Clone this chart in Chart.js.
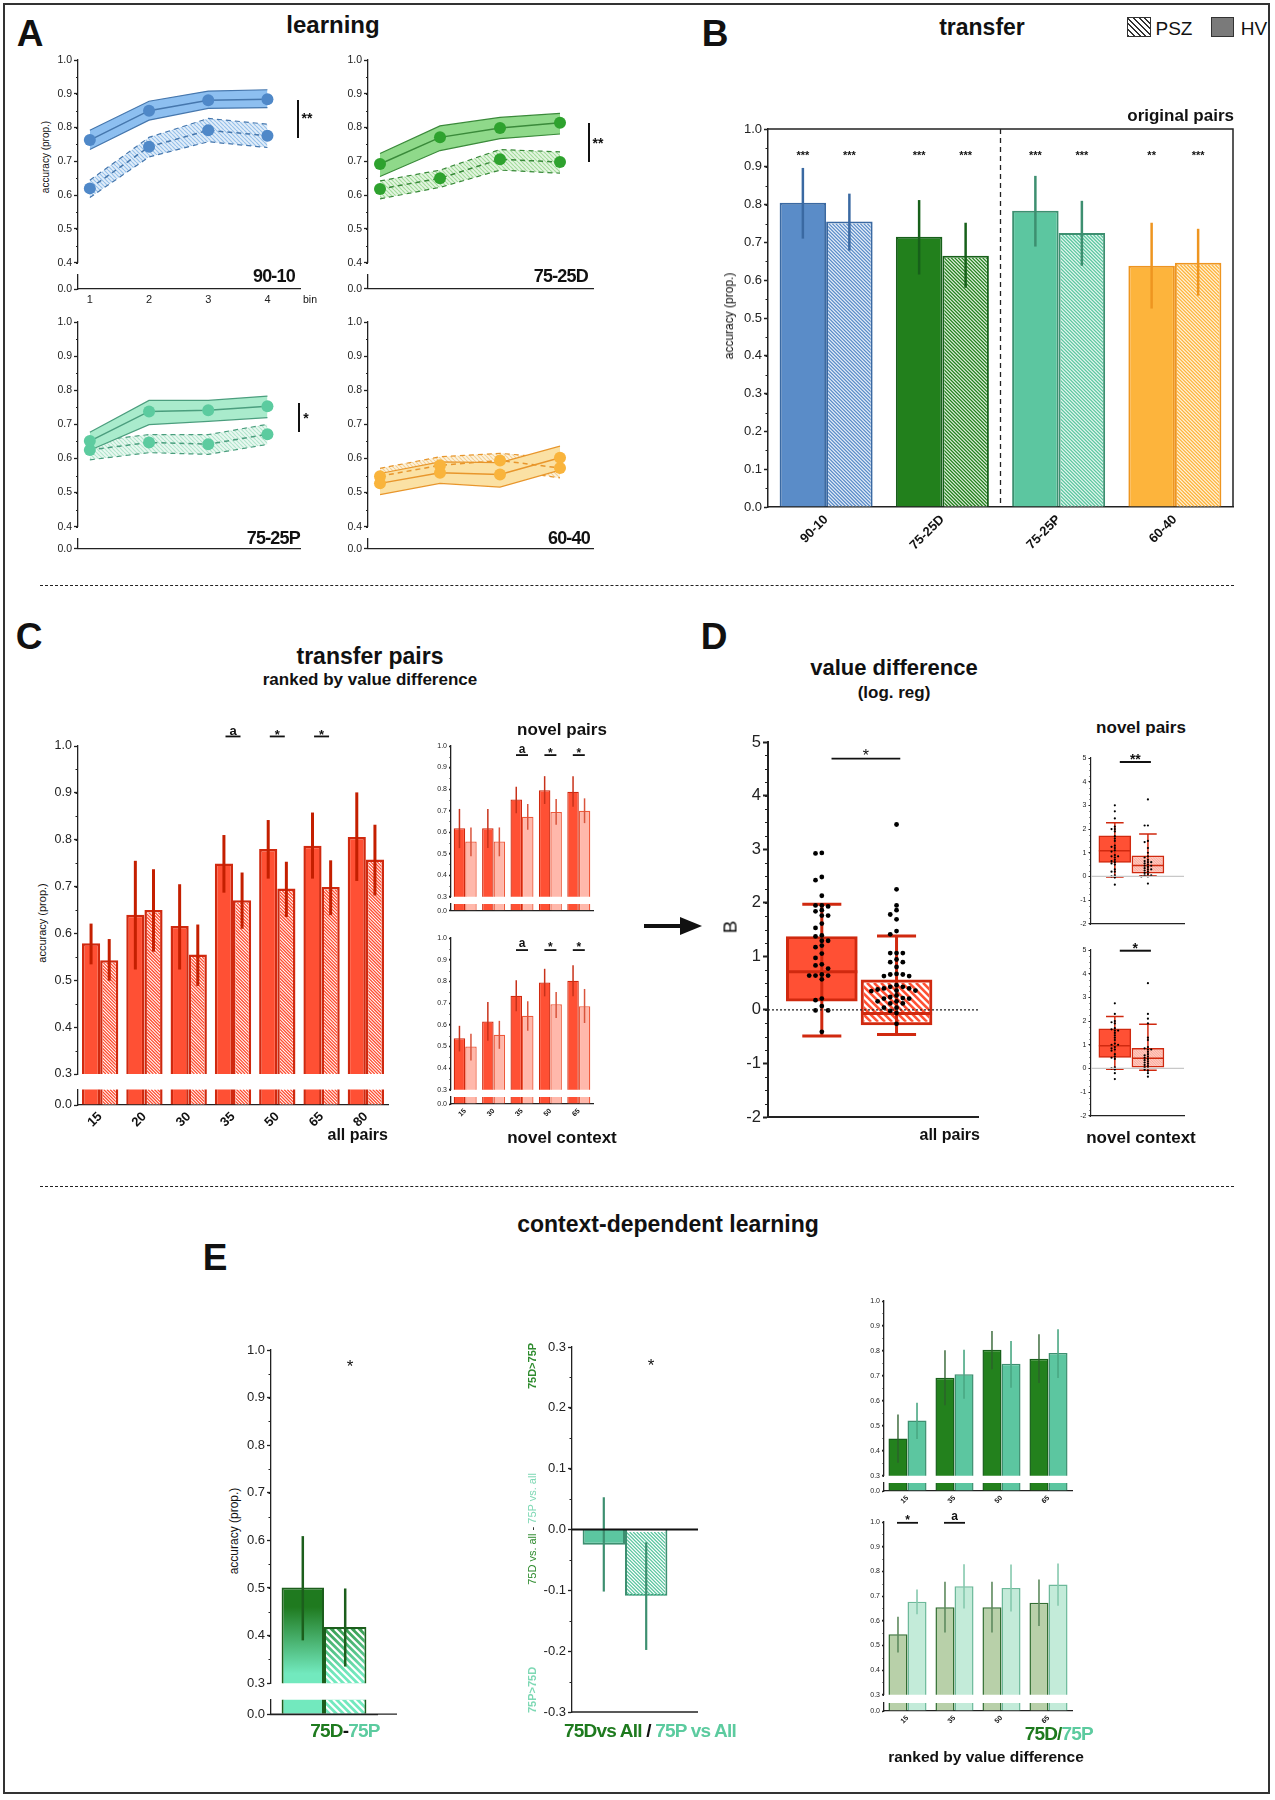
<!DOCTYPE html>
<html>
<head>
<meta charset="utf-8">
<title>learning and transfer</title>
<script src="https://cdn.jsdelivr.net/npm/chart.js@4.4.1/dist/chart.umd.min.js"></script>
<style>
  html, body { margin: 0; padding: 0; background: #fff; }
  body { position: relative; width: 1275px; height: 1800px; overflow: hidden;
         font-family: 'Liberation Sans', Arial, Helvetica, sans-serif; color: #111; }
  .t { position: absolute; white-space: nowrap; line-height: 1; }
  .frame { position: absolute; left: 3px; top: 3px; width: 1267px; height: 1791px; border: 2px solid #333; box-sizing: border-box; }
  .sep { position: absolute; left: 40px; width: 1194px; height: 0; border-top: 1.5px dashed #222; }
  .vb { position: absolute; width: 2px; background: #111; }
</style>
</head>
<body>
<div class="frame"></div>
<div class="sep" style="top:585px"></div>
<div class="sep" style="top:1186px"></div>
<svg style="position:absolute;left:640px;top:913px" width="64" height="26">
  <line x1="4" y1="13" x2="44" y2="13" stroke="#111" stroke-width="4"/>
  <polygon points="40,4 62,13 40,22" fill="#111"/>
</svg>
<div style="position:absolute;left:1127px;top:17px;width:24px;height:20px;border:1.5px solid #333;box-sizing:border-box;background:repeating-linear-gradient(45deg,#333 0 1.3px,#fff 1.3px 4px)"></div>
<div style="position:absolute;left:1211px;top:17px;width:23px;height:20px;border:1.5px solid #333;box-sizing:border-box;background:#7a7a7a"></div>
<script>
// ---------- A: learning curves (mean and band edges per bin) ----------
const bins = [1, 2, 3, 4];

const hv9010 = [0.763, 0.850, 0.881, 0.884];
const hv9010Hi = [0.792, 0.878, 0.908, 0.912];
const hv9010Lo = [0.735, 0.822, 0.857, 0.859];
const psz9010 = [0.620, 0.743, 0.792, 0.776];
const psz9010Hi = [0.644, 0.771, 0.827, 0.810];
const psz9010Lo = [0.593, 0.713, 0.758, 0.741];

const hv7525D = [0.692, 0.771, 0.799, 0.814];
const hv7525DHi = [0.723, 0.805, 0.830, 0.842];
const hv7525DLo = [0.655, 0.732, 0.767, 0.781];
const psz7525D = [0.618, 0.650, 0.706, 0.698];
const psz7525DHi = [0.642, 0.674, 0.735, 0.728];
const psz7525DLo = [0.589, 0.623, 0.674, 0.665];

const hv7525P = [0.651, 0.738, 0.741, 0.753];
const hv7525PHi = [0.677, 0.770, 0.770, 0.783];
const hv7525PLo = [0.624, 0.699, 0.709, 0.720];
const psz7525P = [0.625, 0.647, 0.642, 0.671];
const psz7525PHi = [0.650, 0.670, 0.670, 0.700];
const psz7525PLo = [0.596, 0.617, 0.612, 0.641];

const hv6040 = [0.527, 0.558, 0.553, 0.602];
const hv6040Hi = [0.556, 0.590, 0.588, 0.636];
const hv6040Lo = [0.494, 0.527, 0.516, 0.566];
const psz6040 = [0.548, 0.580, 0.594, 0.572];
const psz6040Hi = [0.571, 0.605, 0.615, 0.600];
const psz6040Lo = [0.524, 0.555, 0.568, 0.543];

// ---------- B: transfer, original pairs ----------
const pairTypes = ['90-10', '75-25D', '75-25P', '60-40'];
const transferHV = [0.805, 0.715, 0.784, 0.638];
const transferHVHi = [0.897, 0.812, 0.876, 0.752];
const transferHVLo = [0.710, 0.615, 0.689, 0.525];
const transferPSZ = [0.755, 0.665, 0.725, 0.646];
const transferPSZHi = [0.829, 0.752, 0.810, 0.736];
const transferPSZLo = [0.678, 0.580, 0.638, 0.559];
const transferSigHV = ['***', '***', '***', '**'];
const transferSigPSZ = ['***', '***', '***', '***'];

// ---------- C: transfer pairs ranked by value difference ----------
const valueDiffs = ['15', '20', '30', '35', '50', '65', '80'];
const allHV = [0.579, 0.640, 0.616, 0.749, 0.780, 0.787, 0.806];
const allHVHi = [0.621, 0.755, 0.705, 0.810, 0.842, 0.858, 0.901];
const allHVLo = [0.534, 0.523, 0.523, 0.687, 0.717, 0.717, 0.712];
const allPSZ = [0.543, 0.650, 0.555, 0.671, 0.696, 0.699, 0.758];
const allPSZHi = [0.588, 0.737, 0.619, 0.730, 0.753, 0.756, 0.832];
const allPSZLo = [0.499, 0.561, 0.488, 0.610, 0.635, 0.639, 0.681];
const allSig = ['', '', '', 'a', '*', '*', ''];

const novelDiffs = ['15', '30', '35', '50', '65'];
const novelPairsHV = [0.618, 0.618, 0.752, 0.795, 0.788];
const novelPairsHVHi = [0.708, 0.708, 0.811, 0.860, 0.860];
const novelPairsHVLo = [0.526, 0.526, 0.688, 0.731, 0.718];
const novelPairsPSZ = [0.557, 0.557, 0.672, 0.694, 0.700];
const novelPairsPSZHi = [0.622, 0.622, 0.731, 0.754, 0.757];
const novelPairsPSZLo = [0.488, 0.488, 0.611, 0.634, 0.642];
const novelCtxHV = [0.538, 0.615, 0.734, 0.795, 0.803];
const novelCtxHVHi = [0.595, 0.705, 0.805, 0.858, 0.874];
const novelCtxHVLo = [0.477, 0.526, 0.662, 0.731, 0.731];
const novelCtxPSZ = [0.500, 0.554, 0.642, 0.695, 0.685];
const novelCtxPSZHi = [0.558, 0.618, 0.708, 0.751, 0.765];
const novelCtxPSZLo = [0.435, 0.489, 0.572, 0.631, 0.608];
const novelSig = ['', '', 'a', '*', '*'];

// ---------- D: value difference (log. reg), B per subject ----------
const boxX = [1, 2]; // HV, PSZ
const bAllHV = [2.92, 2.93, 2.48, 2.42, 2.13, 1.95, 1.93, 1.95, 1.84, 1.76, 1.76, 1.86, 1.61, 1.53, 1.37, 1.39,
  1.29, 1.29, 1.20, 1.17, 1.05, 0.97, 0.83, 0.85, 0.77, 0.66, 0.64, 0.57, 0.64, 0.64, 0.21, 0.18, -0.01, 0.07, -0.01, -0.41];
const bAllPSZ = [3.46, 2.25, 1.95, 1.86, 1.78, 1.69, 1.47, 1.41, 1.06, 1.06, 1.06, 0.94, 0.89, 0.89, 0.80, 0.66,
  0.66, 0.63, 0.63, 0.67, 0.46, 0.43, 0.43, 0.38, 0.36, 0.36, 0.40, 0.40, 0.27, 0.35, 0.21, 0.24, 0.21, 0.22,
  0.16, 0.16, 0.04, -0.02, 0.12, 0.12, 0.04, -0.06, -0.26];
const bAllQ1 = [0.16, -0.28];
const bAllQ3 = [1.37, 0.56];
const bAllMed = [0.71, -0.07];
const bAllLo = [-0.49, -0.46];
const bAllHi = [1.97, 1.38];

const bNpHV = [3.0, 2.75, 2.45, 2.1, 2.0, 2.0, 1.9, 1.7, 1.6, 1.5, 1.3, 1.25, 1.2, 1.1, 1.05, 0.9, 0.85, 0.85,
  0.8, 0.7, 0.65, 0.6, 0.55, 0.5, 0.3, 0.2, 0.2, 0.05, 0.0, -0.05, -0.35];
const bNpPSZ = [3.25, 2.15, 2.15, 1.5, 1.45, 1.2, 1.0, 0.85, 0.8, 0.7, 0.65, 0.6, 0.6, 0.55, 0.5, 0.45, 0.45,
  0.4, 0.35, 0.3, 0.3, 0.25, 0.2, 0.15, 0.1, 0.05, 0.05, 0.0, 0.0, -0.3];
const bNpQ1 = [0.59, 0.14];
const bNpQ3 = [1.71, 0.87];
const bNpMed = [1.08, 0.46];
const bNpLo = [-0.02, 0.03];
const bNpHi = [2.27, 1.79];

const bNcHV = [2.75, 2.3, 2.0, 1.95, 1.9, 1.7, 1.65, 1.6, 1.6, 1.5, 1.4, 1.3, 1.2, 1.05, 1.0, 1.0, 0.9, 0.85,
  0.8, 0.75, 0.6, 0.5, 0.45, 0.4, 0.05, 0.0, -0.05, -0.2, -0.45];
const bNcPSZ = [3.6, 2.3, 2.1, 1.9, 1.3, 1.2, 0.9, 0.85, 0.8, 0.8, 0.7, 0.6, 0.55, 0.5, 0.45, 0.4, 0.35, 0.3,
  0.25, 0.2, 0.15, 0.1, 0.05, 0.0, -0.05, -0.1, -0.2, -0.35];
const bNcQ1 = [0.47, 0.05];
const bNcQ3 = [1.67, 0.85];
const bNcMed = [0.96, 0.43];
const bNcLo = [-0.03, -0.08];
const bNcHi = [2.19, 1.87];

// ---------- E: context-dependent learning ----------
const e1Labels = ['75D-75P'];
const e1HV = [0.501], e1HVHi = [0.609], e1HVLo = [0.390];
const e1PSZ = [0.418], e1PSZHi = [0.499], e1PSZLo = [0.335];
const e2HV = [-0.025], e2HVHi = [0.053], e2HVLo = [-0.102];
const e2PSZ = [-0.109], e2PSZHi = [-0.021], e2PSZLo = [-0.198];

const e3Diffs = ['15', '35', '50', '65'];
const hv75D = [0.449, 0.693, 0.805, 0.769];
const hv75DHi = [0.545, 0.803, 0.880, 0.867];
const hv75DLo = [0.352, 0.583, 0.727, 0.672];
const hv75P = [0.521, 0.707, 0.749, 0.792];
const hv75PHi = [0.593, 0.805, 0.840, 0.887];
const hv75PLo = [0.447, 0.609, 0.653, 0.692];
const psz75D = [0.545, 0.655, 0.655, 0.673];
const psz75DHi = [0.616, 0.758, 0.758, 0.767];
const psz75DLo = [0.471, 0.552, 0.552, 0.579];
const psz75P = [0.677, 0.740, 0.733, 0.747];
const psz75PHi = [0.727, 0.829, 0.828, 0.832];
const psz75PLo = [0.626, 0.650, 0.637, 0.661];
const psz75Sig = ['*', 'a', '', ''];

// ---------- setup ----------
const FONT = "'Liberation Sans', Arial, Helvetica, sans-serif";
Chart.defaults.font.family = FONT;
Chart.defaults.color = '#222';
Chart.defaults.animation = false;
Chart.defaults.responsive = true;
Chart.defaults.maintainAspectRatio = false;
Chart.defaults.events = [];
Chart.defaults.plugins.legend.display = false;
Chart.defaults.plugins.tooltip.enabled = false;

// error bars drawn from errHi / errLo on a dataset
const errorBars = {
  id: 'errorBars',
  afterDatasetsDraw(chart) {
    const ctx = chart.ctx;
    chart.data.datasets.forEach((ds, i) => {
      if (!ds.errHi) return;
      const meta = chart.getDatasetMeta(i);
      const ys = chart.scales[meta.yAxisID];
      meta.data.forEach((bar, j) => {
        ctx.save();
        ctx.strokeStyle = Array.isArray(ds.errColor) ? ds.errColor[j] : ds.errColor;
        ctx.lineWidth = ds.errWidth;
        ctx.beginPath();
        ctx.moveTo(bar.x, ys.getPixelForValue(ds.errHi[j]));
        ctx.lineTo(bar.x, ys.getPixelForValue(ds.errLo[j]));
        ctx.stroke();
        ctx.restore();
      });
    });
  }
};

// diagonal hatching over bars
const stripes = {
  id: 'stripes',
  afterDatasetDraw(chart, args) {
    const ds = chart.data.datasets[args.index];
    if (!ds.stripe) return;
    const s = ds.stripe, ctx = chart.ctx, a = chart.chartArea;
    const bw = ds.borderWidth || 0;
    args.meta.data.forEach((bar, j) => {
      const col = Array.isArray(s.color) ? s.color[j] : s.color;
      if (!col) return;
      const l = bar.x - bar.width / 2 + bw, r = bar.x + bar.width / 2 - bw;
      const t = Math.max(Math.min(bar.y, bar.base) + bw, a.top);
      const b = Math.min(Math.max(bar.y, bar.base) - (ds.borderSkipped === false ? bw : 0), a.bottom);
      if (b <= t) return;
      ctx.save();
      ctx.beginPath();
      ctx.rect(l, t, r - l, b - t);
      ctx.clip();
      ctx.strokeStyle = col;
      ctx.lineWidth = s.lw;
      ctx.beginPath();
      const h = b - t;
      for (let k = l - h - s.gap; k < r + s.gap; k += s.gap) {
        ctx.moveTo(k, t);
        ctx.lineTo(k + h, b);
      }
      ctx.stroke();
      ctx.restore();
    });
  }
};

// whiskers and median for box datasets
const whiskers = {
  id: 'whiskers',
  afterDatasetDraw(chart, args) {
    const ds = chart.data.datasets[args.index];
    if (!ds.box) return;
    const b = ds.box, ctx = chart.ctx, ys = chart.scales.y;
    ctx.save();
    ctx.strokeStyle = b.color;
    ctx.lineWidth = b.lw;
    args.meta.data.forEach((bar, j) => {
      const x = bar.x, cap = bar.width * b.cap / 2, half = bar.width / 2;
      const hi = ys.getPixelForValue(b.hi[j]), lo = ys.getPixelForValue(b.lo[j]);
      const med = ys.getPixelForValue(b.med[j]);
      ctx.beginPath();
      ctx.moveTo(x, hi); ctx.lineTo(x, lo);
      ctx.moveTo(x - cap, hi); ctx.lineTo(x + cap, hi);
      ctx.moveTo(x - cap, lo); ctx.lineTo(x + cap, lo);
      ctx.moveTo(x - half, med); ctx.lineTo(x + half, med);
      ctx.stroke();
    });
    ctx.restore();
  }
};
Chart.register(errorBars, stripes, whiskers);

function minorTicks(step, len) {
  return {
    id: 'minorTicks',
    afterDraw(ch) {
      const y = ch.scales.y, ctx = ch.ctx;
      const n = Math.round((y.max - y.min) / step);
      ctx.save();
      ctx.strokeStyle = '#222';
      ctx.lineWidth = 1;
      for (let k = 0; k <= n; k++) {
        const p = Math.round(y.getPixelForValue(y.min + k * step)) + 0.5;
        ctx.beginPath();
        ctx.moveTo(y.right - len, p);
        ctx.lineTo(y.right, p);
        ctx.stroke();
      }
      ctx.restore();
    }
  };
}

const glyphMid = t => (t.indexOf('*') >= 0 ? 0.58 : 0.27);

// significance text (optionally underlined) above a category or a bar
function sigMarks(items, o) {
  return {
    id: 'sigMarks',
    afterDraw(ch) {
      const ctx = ch.ctx, xs = ch.scales.x, ys = ch.scales.y;
      ctx.save();
      ctx.fillStyle = '#111';
      ctx.strokeStyle = '#111';
      ctx.textAlign = 'center';
      ctx.font = `bold ${o.size}px ${FONT}`;
      items.forEach(it => {
        if (!it.text) return;
        const x = it.ds !== undefined ? ch.getDatasetMeta(it.ds).data[it.i].x : xs.getPixelForValue(it.i);
        const y = ys.getPixelForValue(it.v);
        if (o.line) {
          ctx.lineWidth = 1.8;
          ctx.beginPath();
          ctx.moveTo(x - o.line / 2, y + o.dy);
          ctx.lineTo(x + o.line / 2, y + o.dy);
          ctx.stroke();
        }
        ctx.fillText(it.text, x, y + glyphMid(it.text) * o.size);
      });
      ctx.restore();
    }
  };
}

function bracket(b) {
  return {
    id: 'bracket',
    afterDraw(ch) {
      const ctx = ch.ctx, xs = ch.scales.x, ys = ch.scales.y;
      const x1 = xs.getPixelForValue(b.x1), x2 = xs.getPixelForValue(b.x2), y = ys.getPixelForValue(b.v);
      ctx.save();
      ctx.strokeStyle = '#111';
      ctx.fillStyle = '#111';
      ctx.lineWidth = b.lw;
      ctx.beginPath();
      ctx.moveTo(x1, y);
      ctx.lineTo(x2, y);
      ctx.stroke();
      ctx.font = `${b.weight} ${b.size}px ${FONT}`;
      ctx.textAlign = 'center';
      ctx.fillText(b.text, (x1 + x2) / 2, y - b.dy + glyphMid(b.text) * b.size);
      ctx.restore();
    }
  };
}

function refLines(lines) {
  return {
    id: 'refLines',
    afterDatasetsDraw(ch) {
      const ctx = ch.ctx, a = ch.chartArea;
      ctx.save();
      lines.forEach(l => {
        ctx.strokeStyle = l.color;
        ctx.lineWidth = l.w;
        ctx.setLineDash(l.dash || []);
        ctx.beginPath();
        if (l.x !== undefined) {
          const p = ch.scales.x.getPixelForValue(l.x);
          ctx.moveTo(p, a.top);
          ctx.lineTo(p, a.bottom);
        } else {
          const p = ch.scales.y.getPixelForValue(l.v);
          ctx.moveTo(a.left, p);
          ctx.lineTo(a.right + (l.ext || 0), p);
        }
        ctx.stroke();
      });
      ctx.restore();
    }
  };
}

const frameBox = {
  id: 'frameBox',
  afterDraw(ch) {
    const a = ch.chartArea, ctx = ch.ctx;
    ctx.save();
    ctx.strokeStyle = '#222';
    ctx.lineWidth = 1.5;
    ctx.beginPath();
    ctx.moveTo(a.left, a.top);
    ctx.lineTo(a.right, a.top);
    ctx.lineTo(a.right, a.bottom);
    ctx.stroke();
    ctx.restore();
  }
};

// chart area [x, y, w, h] in page pixels; pad = room for axes around it
function mount(area, pad) {
  const [x, y, w, h] = area;
  const d = document.createElement('div');
  d.style.cssText = `position:absolute;left:${x - pad.l}px;top:${y - pad.t}px;` +
    `width:${w + pad.l + pad.r}px;height:${h + pad.t + pad.b}px;`;
  const c = document.createElement('canvas');
  d.appendChild(c);
  document.body.appendChild(d);
  return c;
}

function layoutPad(p, xShown) {
  return { padding: { left: 0, top: p.t, right: p.r, bottom: xShown ? 0 : p.b } };
}

function yLin(o) {
  const s = {
    type: 'linear', min: o.min, max: o.max,
    afterFit: sc => { sc.width = o.w; },
    ticks: { stepSize: o.step, font: { size: o.font }, color: '#222', padding: 2,
      callback: o.fmt || (v => v.toFixed(1)) },
    grid: { drawOnChartArea: false, tickLength: o.tl || 4, tickColor: '#222', tickWidth: o.lw || 1.3 },
    border: { color: '#222', width: o.lw || 1.3 }
  };
  if (o.ticksAt) s.afterBuildTicks = sc => { sc.ticks = o.ticksAt.map(v => ({ value: v })); };
  return s;
}

function xCat(o) {
  return {
    type: 'category', offset: true,
    afterFit: sc => { sc.height = o.h; },
    ticks: { display: !!o.labels, font: { size: o.font || 12, weight: 'bold' }, color: '#111',
      minRotation: o.rot || 0, maxRotation: o.rot || 0, autoSkip: false, padding: o.tp === undefined ? 2 : o.tp },
    grid: { display: false, drawTicks: false, tickLength: 0 },
    border: { display: true, color: '#222', width: o.lw || 1.3 }
  };
}

function hatch(ctx, fg, bg, g) {
  const t = document.createElement('canvas');
  t.width = t.height = g;
  const x = t.getContext('2d');
  x.fillStyle = bg;
  x.fillRect(0, 0, g, g);
  x.strokeStyle = fg;
  x.lineWidth = 1.2;
  x.beginPath();
  for (let k = -g; k <= g; k += g) { x.moveTo(k, 0); x.lineTo(k + g, g); }
  x.stroke();
  return ctx.createPattern(t, 'repeat');
}

function txt(html, x, y, o = {}) {
  const d = document.createElement('div');
  d.className = 't';
  d.innerHTML = html;
  d.style.left = x + 'px';
  d.style.top = y + 'px';
  d.style.fontSize = (o.size || 14) + 'px';
  d.style.fontWeight = o.bold ? 'bold' : 'normal';
  if (o.color) d.style.color = o.color;
  if (o.ls) d.style.letterSpacing = o.ls + 'px';
  let tr = o.align === 'right' ? 'translate(-100%,-50%)' : 'translate(-50%,-50%)';
  if (o.rot) tr += ` rotate(${o.rot}deg)`;
  d.style.transform = tr;
  document.body.appendChild(d);
}

function vbar(x, y1, y2) {
  const d = document.createElement('div');
  d.className = 'vb';
  d.style.left = (x - 1) + 'px';
  d.style.top = y1 + 'px';
  d.style.height = (y2 - y1) + 'px';
  document.body.appendChild(d);
}

// ---------- A ----------
const learnColors = {
  blue: { pt: '#4F88C8', ln: '#4677AD', band: '#8DBFF0', h1: '#97C1EA', h2: '#E3EEF9' },
  green: { pt: '#2EA22E', ln: '#3A8A3A', band: '#8FD98A', h1: '#A3DC9C', h2: '#E5F5E2' },
  teal: { pt: '#5CCB9F', ln: '#4B9E7E', band: '#A9EBCC', h1: '#B2E6CD', h2: '#EAF8F1' },
  orange: { pt: '#F9B43C', ln: '#E8962C', band: '#FBE1A4', h1: '#F3D197', h2: '#FDF2DC' }
};

function learnChart(area, stripArea, s, col, showBins) {
  const pad = { l: 26, t: 10, r: 8, b: 8 };
  const cv = mount(area, pad);
  const pat = hatch(cv.getContext('2d'), col.h1, col.h2, 4);
  const ln = (data, dash, more) => Object.assign({ data, borderColor: col.ln, borderWidth: 1.2,
    borderDash: dash, pointRadius: 0, fill: false, tension: 0 }, more || {});
  const mean = { pointRadius: 6, pointBackgroundColor: col.pt, pointBorderWidth: 0, borderWidth: 1.5 };
  new Chart(cv, {
    type: 'line',
    data: { labels: bins, datasets: [
      ln(s[0], [], mean), ln(s[3], [5, 4], mean),
      ln(s[1], []), ln(s[2], [], { fill: 2, backgroundColor: col.band }),
      ln(s[4], [5, 4]), ln(s[5], [5, 4], { fill: 4, backgroundColor: pat })
    ] },
    options: {
      layout: layoutPad(pad, false),
      scales: {
        x: { type: 'linear', min: 0.8, max: 4.55, display: false },
        y: yLin({ min: 0.4, max: 1.0, step: 0.1, w: pad.l, font: 10.5 })
      }
    },
    plugins: [minorTicks(0.05, 2)]
  });
  const sp = { l: 26, t: 8, r: 8, b: showBins ? 20 : 8 };
  new Chart(mount(stripArea, sp), {
    type: 'line',
    data: { labels: bins, datasets: [] },
    options: {
      layout: layoutPad(sp, true),
      scales: {
        x: { type: 'linear', min: 0.8, max: 4.55, offset: false, afterFit: sc => { sc.height = sp.b; },
          afterBuildTicks: sc => { sc.ticks = bins.map(v => ({ value: v })); },
          ticks: { display: showBins, font: { size: 11 }, color: '#222', padding: 4, maxRotation: 0, minRotation: 0 },
          grid: { display: false, drawTicks: false, tickLength: 0 }, border: { color: '#222', width: 1.3 } },
        y: yLin({ min: 0, max: 0.05, w: sp.l, font: 10.5, ticksAt: [0, 0.05], fmt: v => (v === 0 ? '0.0' : '') })
      }
    }
  });
}

learnChart([78, 60, 222, 203], [78, 274, 222, 15],
  [hv9010, hv9010Hi, hv9010Lo, psz9010, psz9010Hi, psz9010Lo], learnColors.blue, true);
learnChart([368, 60, 225, 203], [368, 274, 225, 15],
  [hv7525D, hv7525DHi, hv7525DLo, psz7525D, psz7525DHi, psz7525DLo], learnColors.green, false);
learnChart([78, 322, 222, 205], [78, 538, 222, 11],
  [hv7525P, hv7525PHi, hv7525PLo, psz7525P, psz7525PHi, psz7525PLo], learnColors.teal, false);
learnChart([368, 322, 225, 205], [368, 538, 225, 11],
  [hv6040, hv6040Hi, hv6040Lo, psz6040, psz6040Hi, psz6040Lo], learnColors.orange, false);

// ---------- paired bars ----------
function pairSets(a, b, o) {
  const base = { borderWidth: o.bw, borderSkipped: 'start', categoryPercentage: o.cp, barPercentage: 1 };
  const d1 = Object.assign({ data: a[0], backgroundColor: o.fill1, borderColor: o.edge1 }, base);
  const d2 = Object.assign({ data: b[0], backgroundColor: o.fill2, borderColor: o.edge2 }, base);
  if (o.stripe) d2.stripe = o.stripe;
  if (o.err) {
    Object.assign(d1, { errHi: a[1], errLo: a[2], errColor: o.err1, errWidth: o.ew });
    Object.assign(d2, { errHi: b[1], errLo: b[2], errColor: o.err2, errWidth: o.ew });
  }
  return [d1, d2];
}

// bar chart with a broken y axis: upper part from o.min to 1.0, small strip at 0
function brokenBars(o) {
  const p = { l: o.yw, t: o.pt, r: o.pr, b: o.pb };
  const plugins = [minorTicks(0.05, o.ml)];
  if (o.sig) plugins.push(sigMarks(o.sig, o.sigStyle));
  new Chart(mount(o.area, p), {
    type: 'bar',
    data: { labels: o.labels, datasets: pairSets(o.a, o.b, Object.assign({ err: true }, o.style)) },
    options: {
      layout: layoutPad(p, false),
      scales: {
        x: { type: 'category', offset: true, display: false },
        y: yLin({ min: o.min, max: 1, step: 0.1, w: o.yw, font: o.font, tl: o.tl })
      }
    },
    plugins
  });
  const sp = { l: o.yw, t: 8, r: o.pr, b: o.sb };
  new Chart(mount(o.strip, sp), {
    type: 'bar',
    data: { labels: o.labels, datasets: pairSets(o.a, o.b, Object.assign({ err: false }, o.style)) },
    options: {
      layout: layoutPad(sp, true),
      scales: {
        x: xCat({ h: o.sb, labels: o.showLabels, font: o.xf, rot: 45, tp: o.xtp }),
        y: yLin({ min: 0, max: 0.05, w: o.yw, font: o.font, tl: o.tl, ticksAt: [0, 0.05],
          fmt: v => (v === 0 ? '0.0' : '') })
      }
    },
    plugins: o.ext ? [refLines([{ v: 0, color: '#222', w: 1.3, ext: o.ext }])] : []
  });
}

// ---------- B ----------
const pairFill = ['#5A8CC8', '#22801C', '#5CC6A0', '#FDB43C'];
const pairEdge = ['#3A69A2', '#17601A', '#3D8F70', '#EE9520'];
const pairTint = ['#E6EEF8', '#DDEEDB', '#E5F7EF', '#FFF2DA'];
{
  const bp = { l: 36, t: 12, r: 6, b: 50 };
  const sigItems = transferSigHV.map((t, i) => ({ ds: 0, i, text: t, v: 0.937 }))
    .concat(transferSigPSZ.map((t, i) => ({ ds: 1, i, text: t, v: 0.937 })));
  new Chart(mount([768, 129, 465, 378], bp), {
    type: 'bar',
    data: { labels: pairTypes, datasets: pairSets(
      [transferHV, transferHVHi, transferHVLo], [transferPSZ, transferPSZHi, transferPSZLo],
      { err: true, bw: 2, cp: 0.8, fill1: pairFill, edge1: pairEdge, fill2: pairTint, edge2: pairEdge,
        stripe: { color: pairFill, gap: 3.5, lw: 1.3 }, err1: pairEdge, err2: pairEdge, ew: 2.5 }) },
    options: {
      layout: layoutPad(bp, true),
      scales: {
        x: xCat({ h: bp.b, labels: true, font: 13, rot: 45, lw: 1.5, tp: 5 }),
        y: yLin({ min: 0, max: 1, step: 0.1, w: bp.l, font: 13, lw: 1.5 })
      }
    },
    plugins: [minorTicks(0.05, 2.5), frameBox, refLines([{ x: 1.5, color: '#222', w: 1.3, dash: [5, 4] }]),
      sigMarks(sigItems, { size: 11 })]
  });
}

// ---------- C ----------
const cRed = '#FF5034', cEdge = '#D0290F', cErr = '#C41F00';
brokenBars({
  area: [78, 746, 310, 328], strip: [78, 1088, 310, 17], labels: valueDiffs,
  a: [allHV, allHVHi, allHVLo], b: [allPSZ, allPSZHi, allPSZLo],
  style: { bw: 2.5, cp: 0.82, fill1: cRed, edge1: cEdge, fill2: '#FFFFFF', edge2: cEdge,
    stripe: { color: cRed, gap: 3.2, lw: 1.3 }, err1: cErr, err2: cErr, ew: 3 },
  min: 0.3, yw: 30, pt: 26, pr: 6, pb: 10, font: 12.5, ml: 2.5, sb: 30, showLabels: true, xf: 13, xtp: 4,
  sig: allSig.map((t, i) => ({ i, text: t, v: 1.030 })), sigStyle: { size: 13, line: 15, dy: 4.5 }
});
const cSmall = { bw: 1.3, cp: 0.81, fill1: cRed, edge1: cEdge, fill2: '#FFB8AB', edge2: '#EE5A3C',
  err1: '#C8321A', err2: '#D9543C', ew: 1.5 };
brokenBars({
  area: [451, 746, 142, 151], strip: [451, 904, 142, 7], labels: novelDiffs,
  a: [novelPairsHV, novelPairsHVHi, novelPairsHVLo], b: [novelPairsPSZ, novelPairsPSZHi, novelPairsPSZLo],
  style: cSmall, min: 0.3, yw: 18, pt: 8, pr: 4, pb: 6, font: 7, ml: 1.5, tl: 2, sb: 6, showLabels: false,
  sig: novelSig.map((t, i) => ({ i, text: t, v: 0.981 })), sigStyle: { size: 12, line: 12, dy: 5 }
});
brokenBars({
  area: [451, 938, 142, 152], strip: [451, 1097, 142, 7], labels: novelDiffs,
  a: [novelCtxHV, novelCtxHVHi, novelCtxHVLo], b: [novelCtxPSZ, novelCtxPSZHi, novelCtxPSZLo],
  style: cSmall, min: 0.3, yw: 18, pt: 8, pr: 4, pb: 6, font: 7, ml: 1.5, tl: 2, sb: 16, showLabels: true, xf: 7, xtp: 3,
  sig: novelSig.map((t, i) => ({ i, text: t, v: 0.972 })), sigStyle: { size: 12, line: 12, dy: 6 }
});

// ---------- D ----------
function swarm(vals, cx, pxX, pxY, colPx, rowPx) {
  const placed = [];
  vals.slice().sort((a, b) => b - a).forEach(v => {
    const yp = v * pxY;
    for (let k = 0; k < 30; k++) {
      const c = k === 0 ? 0 : (k % 2 ? -1 : 1) * Math.ceil(k / 2);
      if (placed.every(p => p.c !== c || Math.abs(p.yp - yp) >= rowPx)) {
        placed.push({ c, yp, v });
        break;
      }
    }
  });
  return placed.map(p => ({ x: cx + p.c * colPx / pxX, y: p.v }));
}

function boxChart(area, pad, st, o) {
  const xMin = 0.28, xMax = 3.09;
  const pxX = area[2] / (xMax - xMin), pxY = area[3] / 7;
  const dot = { pointRadius: o.r, pointBackgroundColor: '#000', pointBorderWidth: 0 };
  new Chart(mount(area, pad), {
    type: 'bar',
    data: { datasets: [
      Object.assign({ type: 'scatter', data: swarm(st.hv, boxX[0], pxX, pxY, o.col, o.row) }, dot),
      Object.assign({ type: 'scatter', data: swarm(st.psz, boxX[1], pxX, pxY, o.col, o.row) }, dot),
      { type: 'bar', data: boxX.map((x, i) => ({ x, y: [st.q1[i], st.q3[i]] })),
        backgroundColor: [o.fill1, o.fill2], borderColor: cEdge, borderWidth: o.bw, borderSkipped: false,
        barThickness: o.bt,
        stripe: { color: [null, o.stripeCol], gap: o.gap, lw: o.slw },
        box: { med: st.med, lo: st.lo, hi: st.hi, color: cEdge, lw: o.bw, cap: 0.55 } }
    ] },
    options: {
      layout: layoutPad(pad, true),
      scales: {
        x: { type: 'linear', min: xMin, max: xMax, offset: false, afterFit: sc => { sc.height = pad.b; },
          ticks: { display: false }, grid: { display: false, offset: false }, border: { color: '#222', width: o.lw } },
        y: yLin({ min: -2, max: 5, step: 1, w: pad.l, font: o.font, tl: o.tl, lw: o.lw, fmt: v => String(v) })
      }
    },
    plugins: [minorTicks(0.25, o.ml), refLines([{ v: 0, color: o.zc, w: o.zw, dash: o.zd }]), bracket(o.br)]
  });
}

boxChart([768, 742, 210, 375], { l: 30, t: 14, r: 6, b: 12 },
  { hv: bAllHV, psz: bAllPSZ, q1: bAllQ1, q3: bAllQ3, med: bAllMed, lo: bAllLo, hi: bAllHi },
  { r: 2.4, col: 6.3, row: 4.5, fill1: cRed, fill2: '#FFFFFF', stripeCol: cRed, gap: 7, slw: 2.6, bw: 3, bt: 71,
    lw: 2, font: 16.5, tl: 5, ml: 3, zc: '#222', zw: 1.2, zd: [2, 2],
    br: { x1: 1.13, x2: 2.05, v: 4.69, text: '*', size: 16, weight: 'normal', lw: 1.8, dy: 7 } });
const smallBox = { r: 1.1, col: 3.3, row: 2.0, fill1: cRed, fill2: '#FFC9BF', stripeCol: '#F7A294', gap: 2.6, slw: 0.8,
  bw: 1.5, bt: 32, lw: 1.2, font: 7, tl: 2.5, ml: 1.5, zc: '#C8C8C8', zw: 1.2 };
boxChart([1091, 758, 93, 166], { l: 14, t: 18, r: 4, b: 6 },
  { hv: bNpHV, psz: bNpPSZ, q1: bNpQ1, q3: bNpQ3, med: bNpMed, lo: bNpLo, hi: bNpHi },
  Object.assign({ br: { x1: 1.15, x2: 2.09, v: 4.83, text: '**', size: 14, weight: 'bold', lw: 2, dy: 6 } }, smallBox));
boxChart([1091, 950, 93, 166], { l: 14, t: 18, r: 4, b: 6 },
  { hv: bNcHV, psz: bNcPSZ, q1: bNcQ1, q3: bNcQ3, med: bNcMed, lo: bNcLo, hi: bNcHi },
  Object.assign({ br: { x1: 1.15, x2: 2.09, v: 4.97, text: '*', size: 14, weight: 'bold', lw: 2, dy: 6 } }, smallBox));

// ---------- E ----------
function greenFade(ctx) {
  const ch = ctx.chart, ys = ch.scales.y;
  if (!ch.chartArea || !ys) return '#72E9BE';
  const g = ch.ctx.createLinearGradient(0, ys.getPixelForValue(0.46), 0, ys.getPixelForValue(0.32));
  g.addColorStop(0, '#1F7A1F');
  g.addColorStop(1, '#72E9BE');
  return g;
}
brokenBars({
  area: [271, 1350, 106, 335], strip: [271, 1698, 106, 18], labels: e1Labels,
  a: [e1HV, e1HVHi, e1HVLo], b: [e1PSZ, e1PSZHi, e1PSZLo],
  style: { bw: 2, cp: 0.8, fill1: greenFade, edge1: '#1C5E1C', fill2: greenFade, edge2: '#1C5E1C',
    stripe: { color: '#FFFFFF', gap: 7, lw: 2.2 }, err1: '#1C5E1C', err2: '#1C5E1C', ew: 2.5 },
  min: 0.3, yw: 28, pt: 10, pr: 24, pb: 8, font: 13, ml: 2.5, sb: 8, showLabels: false, ext: 20
});
{
  const p = { l: 36, t: 10, r: 24, b: 10 };
  new Chart(mount([572, 1347, 106, 365], p), {
    type: 'bar',
    data: { labels: e1Labels, datasets: pairSets([e2HV, e2HVHi, e2HVLo], [e2PSZ, e2PSZHi, e2PSZLo],
      { err: true, bw: 2, cp: 0.8, fill1: '#5CC6A0', edge1: '#3D8F70', fill2: '#FFFFFF', edge2: '#3D8F70',
        stripe: { color: '#5CC6A0', gap: 3.5, lw: 1.3 }, err1: '#3D8F70', err2: '#3D8F70', ew: 2.2 }) },
    options: {
      layout: layoutPad(p, false),
      scales: {
        x: { type: 'category', offset: true, display: false },
        y: yLin({ min: -0.3, max: 0.3, step: 0.1, w: p.l, font: 13 })
      }
    },
    plugins: [minorTicks(0.05, 2.5), refLines([{ v: 0, color: '#111', w: 1.8, ext: 20 },
      { v: -0.3, color: '#222', w: 1.3, ext: 20 }])]
  });
}
brokenBars({
  area: [884, 1301, 188, 175], strip: [884, 1483, 188, 8], labels: e3Diffs,
  a: [hv75D, hv75DHi, hv75DLo], b: [hv75P, hv75PHi, hv75PLo],
  style: { bw: 1.5, cp: 0.81, fill1: '#23811D', edge1: '#17601A', fill2: '#5CC6A0', edge2: '#3D8F70',
    err1: 'rgba(45,95,45,0.85)', err2: '#49A783', ew: 1.6 },
  min: 0.3, yw: 18, pt: 8, pr: 4, pb: 6, font: 7, ml: 1.5, tl: 2, sb: 16, showLabels: true, xf: 7, xtp: 3
});
brokenBars({
  area: [884, 1522, 188, 173], strip: [884, 1703, 188, 8], labels: e3Diffs,
  a: [psz75D, psz75DHi, psz75DLo], b: [psz75P, psz75PHi, psz75PLo],
  style: { bw: 1.5, cp: 0.81, fill1: '#B8D0A9', edge1: '#326E32', fill2: '#C3EBD9', edge2: '#6DB99A',
    err1: '#5E8A5E', err2: '#86C9AE', ew: 1.6 },
  min: 0.3, yw: 18, pt: 16, pr: 4, pb: 6, font: 7, ml: 1.5, tl: 2, sb: 16, showLabels: true, xf: 7, xtp: 3,
  sig: psz75Sig.map((t, i) => ({ i, text: t, v: 1.021 })), sigStyle: { size: 12, line: 21, dy: 6 }
});

// ---------- text ----------
const G = '#1E7A1E', T = '#5CCB9F';
txt('A', 30, 33, { size: 37, bold: true });
txt('learning', 333, 25, { size: 24, bold: true });
txt('accuracy (prop.)', 46, 157, { size: 10, rot: -90 });
vbar(298, 100, 138); txt('**', 307, 118, { size: 14, bold: true });
vbar(589, 123, 162); txt('**', 598, 143, { size: 14, bold: true });
vbar(299, 403, 432); txt('*', 306, 418, { size: 14, bold: true });
txt('90-10', 295, 276, { size: 18, bold: true, align: 'right', ls: -0.8 });
txt('75-25D', 588, 276, { size: 18, bold: true, align: 'right', ls: -0.8 });
txt('75-25P', 300, 538, { size: 18, bold: true, align: 'right', ls: -0.8 });
txt('60-40', 590, 538, { size: 18, bold: true, align: 'right', ls: -0.8 });
txt('bin', 310, 299, { size: 10.5 });

txt('B', 715, 33, { size: 37, bold: true });
txt('transfer', 982, 27, { size: 23, bold: true });
txt('PSZ', 1174, 28, { size: 19 });
txt('HV', 1254, 28, { size: 19 });
txt('original pairs', 1234, 115, { size: 17, bold: true, align: 'right' });
txt('accuracy (prop.)', 729, 316, { size: 12, rot: -90 });

txt('C', 29, 636, { size: 37, bold: true });
txt('transfer pairs', 370, 656, { size: 23, bold: true });
txt('ranked by value difference', 370, 679, { size: 17, bold: true });
txt('accuracy (prop.)', 42, 923, { size: 11, rot: -90 });
txt('all pairs', 388, 1135, { size: 16, bold: true, align: 'right' });
txt('novel pairs', 562, 729, { size: 17, bold: true });
txt('novel context', 562, 1137, { size: 17, bold: true });

txt('D', 714, 636, { size: 37, bold: true });
txt('value difference', 894, 668, { size: 22, bold: true });
txt('(log. reg)', 894, 692, { size: 17, bold: true });
txt('B', 730, 927, { size: 19, rot: -90 });
txt('all pairs', 980, 1135, { size: 16, bold: true, align: 'right' });
txt('novel pairs', 1141, 727, { size: 17, bold: true });
txt('novel context', 1141, 1137, { size: 17, bold: true });

txt('context-dependent learning', 668, 1224, { size: 23, bold: true });
txt('E', 215, 1257, { size: 37, bold: true });
txt('accuracy (prop.)', 234, 1531, { size: 12, rot: -90 });
txt('*', 350, 1366, { size: 17 });
txt(`<span style="color:${G}">75D</span>-<span style="color:${T}">75P</span>`, 345, 1730,
  { size: 19, bold: true, ls: -0.8 });
txt('*', 651, 1365, { size: 17 });
txt('75D&gt;75P', 532, 1366, { size: 11, bold: true, color: '#2E8B2E', rot: -90 });
txt(`<span style="color:#2E8B2E">75D vs. all</span> - <span style="color:#7ED8B4">75P vs. all</span>`, 532, 1529,
  { size: 11, rot: -90 });
txt('75P&gt;75D', 532, 1690, { size: 11, bold: true, color: '#7ED8B4', rot: -90 });
txt(`<span style="color:${G}">75Dvs All</span> / <span style="color:${T}">75P vs All</span>`, 650, 1730,
  { size: 19, bold: true, ls: -0.8 });
txt(`<span style="color:${G}">75D/</span><span style="color:${T}">75P</span>`, 1093, 1733,
  { size: 19, bold: true, align: 'right', ls: -0.8 });
txt('ranked by value difference', 986, 1757, { size: 15.5, bold: true });
</script>
</body>
</html>
